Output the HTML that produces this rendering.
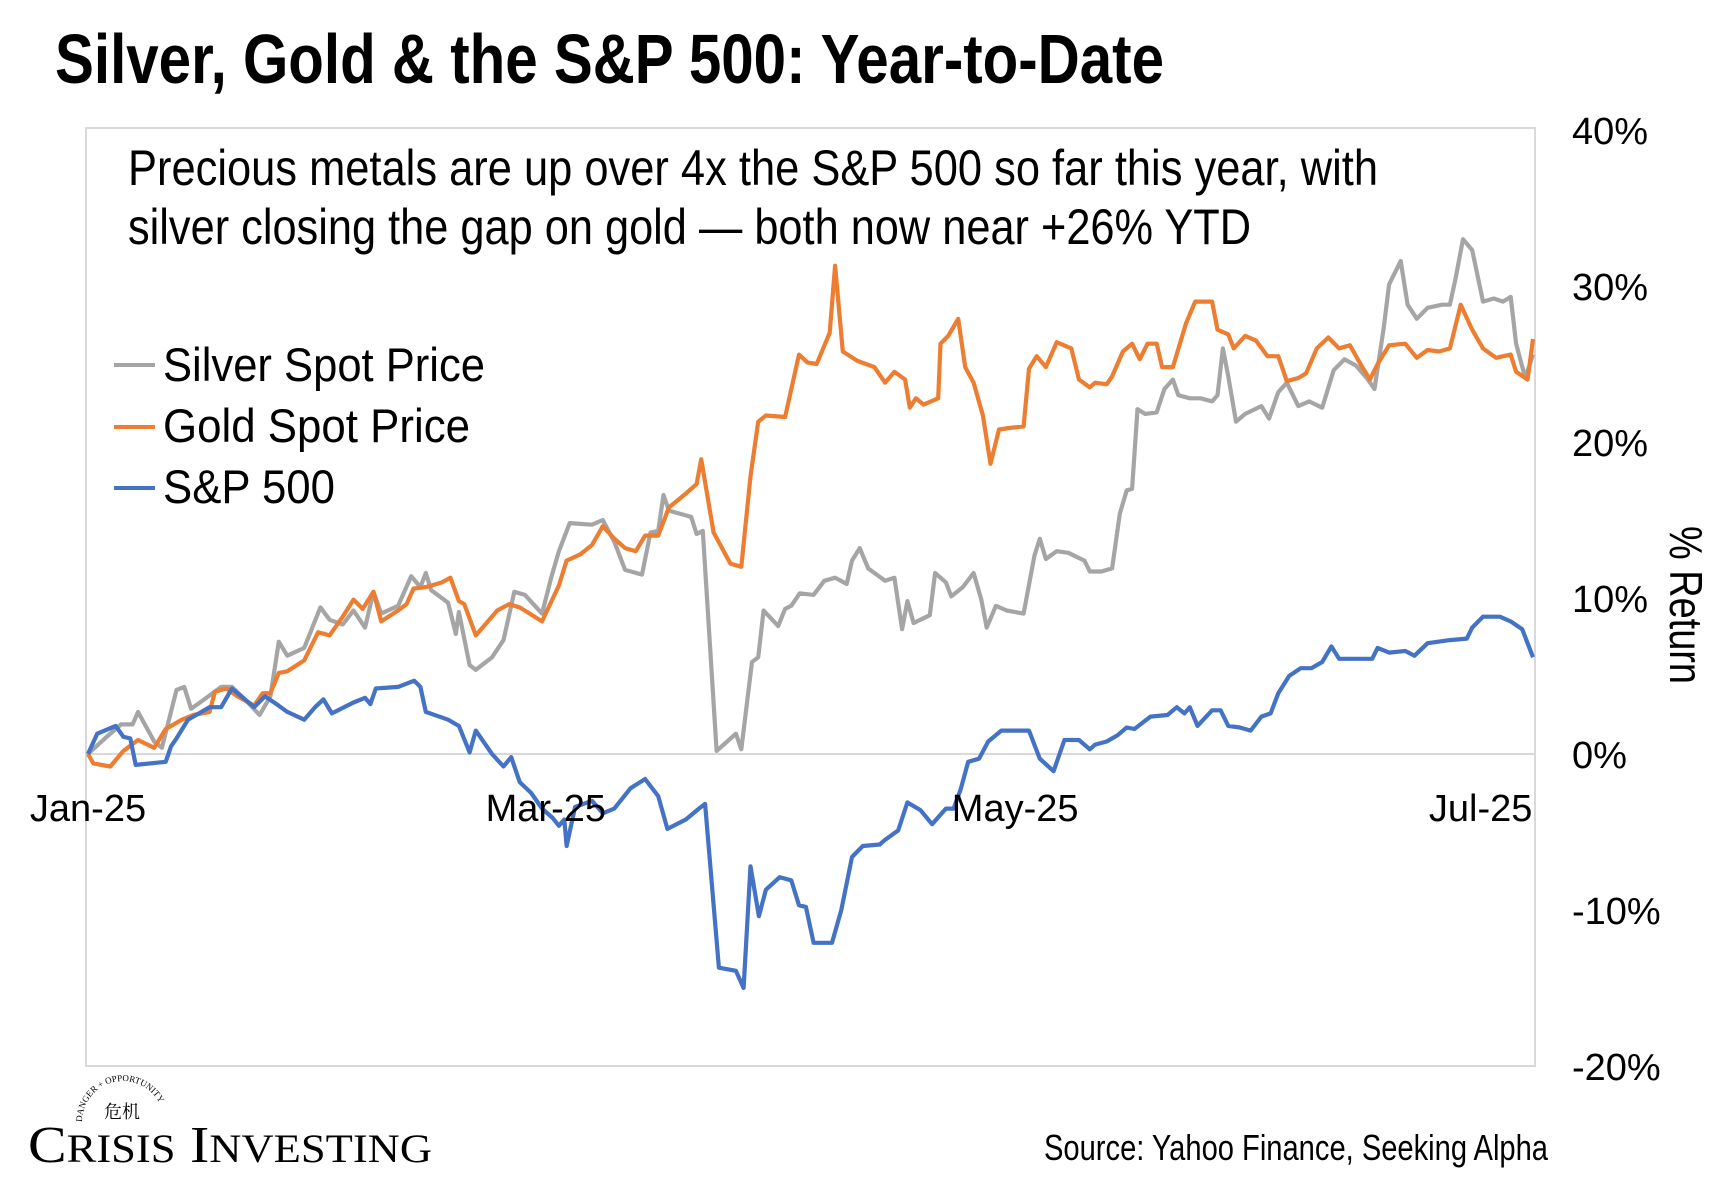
<!DOCTYPE html>
<html><head><meta charset="utf-8"><style>
html,body{margin:0;padding:0;background:#fff;}
svg{display:block;}
</style></head><body>
<svg id="chart" width="1732" height="1196" viewBox="0 0 1732 1196" xmlns="http://www.w3.org/2000/svg">
<rect width="1732" height="1196" fill="#fff"/>
<text x="55" y="83" font-family="Liberation Sans, sans-serif" font-weight="bold" font-size="70" textLength="1109" lengthAdjust="spacingAndGlyphs">Silver, Gold &amp; the S&amp;P 500: Year-to-Date</text>
<rect x="86" y="128" width="1449" height="938" fill="none" stroke="#d9d9d9" stroke-width="2"/>
<text x="128" y="185" font-family="Liberation Sans, sans-serif" font-size="50" textLength="1250" lengthAdjust="spacingAndGlyphs">Precious metals are up over 4x the S&amp;P 500 so far this year, with</text>
<text x="128" y="244" font-family="Liberation Sans, sans-serif" font-size="50" textLength="1123" lengthAdjust="spacingAndGlyphs">silver closing the gap on gold — both now near +26% YTD</text>
<g id="grid"></g>
<g id="series"></g>
<g id="yticks"></g>
<g id="xticks"></g>
<g>
<g><line x1="114" y1="365" x2="155" y2="365" stroke="#A5A5A5" stroke-width="4"/><text x="163" y="381" font-family="Liberation Sans, sans-serif" font-size="47" textLength="322" lengthAdjust="spacingAndGlyphs">Silver Spot Price</text></g>
<g><line x1="114" y1="427" x2="155" y2="427" stroke="#ED7D31" stroke-width="4"/><text x="163" y="442" font-family="Liberation Sans, sans-serif" font-size="47" textLength="307" lengthAdjust="spacingAndGlyphs">Gold Spot Price</text></g>
<g><line x1="114" y1="488" x2="155" y2="488" stroke="#4472C4" stroke-width="4"/><text x="163" y="503" font-family="Liberation Sans, sans-serif" font-size="47" textLength="172" lengthAdjust="spacingAndGlyphs">S&amp;P 500</text></g>
</g>
<text transform="translate(1670,605) rotate(90)" text-anchor="middle" font-family="Liberation Sans, sans-serif" font-size="46" textLength="158" lengthAdjust="spacingAndGlyphs">% Return</text>
<text x="1548" y="1160" text-anchor="end" font-family="Liberation Sans, sans-serif" font-size="36" textLength="504" lengthAdjust="spacingAndGlyphs">Source: Yahoo Finance, Seeking Alpha</text>
<g>
<path id="arc" d="M82,1122 A40,40 0 0 1 164,1122" fill="none"/>
<text font-family="Liberation Serif, serif" font-size="9"><textPath href="#arc">DANGER + OPPORTUNITY</textPath></text>
<text x="104" y="1118" font-family="Liberation Serif, 'Noto Serif CJK SC', serif" font-size="18">危机</text>
<text x="28" y="1162" font-family="Liberation Serif, serif" font-size="52" textLength="404" lengthAdjust="spacingAndGlyphs">C<tspan font-size="40">RISIS</tspan> I<tspan font-size="40">NVESTING</tspan></text>
</g>
</svg>
<script>
// Day offsets from Jan 1, 2025 and % return values
const spDays = [0,1.2,3.6,4.6,5.5,6.2,10.1,10.8,11.5,13.0,15.8,17.3,18.7,21.6,23.0,24.5,25.9,28.1,29.5,30.6,31.7,34.5,36.0,36.7,37.4,40.3,42.4,43.2,43.9,46.8,48.2,49.6,50.4,52.5,54.0,55.0,56.1,57.6,59.0,60.4,61.2,61.9,62.2,63.3,65.5,66.9,68.4,70.5,72.4,74.1,75.3,77.7,79.4,80.2,82.0,84.2,85.2,86.1,87.2,88.1,89.9,91.4,92.4,93.3,94.3,96.7,97.9,99.3,100.7,102.9,103.6,105.3,106.5,108.2,109.7,111.5,112.5,113.4,114.4,115.8,117.0,118.7,122.3,123.7,125.5,126.9,128.8,130.2,130.9,132.4,133.8,135.0,136.0,138.1,140.3,141.5,142.5,143.2,144.2,146.1,147.2,148.2,149.7,151.1,152.5,153.7,154.7,156.1,157.6,159.0,160.4,161.6,162.6,166.9,167.6,169.1,171.2,172.4,174.1,177.0,179.2,179.9,181.3,183.5,184.9,186.4,187.8];
const spValues = [0,1.3,1.8,1.1,1.0,-0.7,-0.5,0.5,1.0,2.2,3.0,3.0,4.2,3.0,3.7,3.2,2.7,2.2,3.0,3.5,2.6,3.3,3.6,3.2,4.2,4.3,4.7,4.3,2.7,2.2,1.8,0.1,1.5,0,-0.8,-0.2,-1.8,-2.5,-3.5,-4.1,-4.6,-4.2,-5.9,-3.4,-3.0,-3.8,-3.5,-2.2,-1.6,-2.7,-4.8,-4.2,-3.5,-3.2,-13.7,-13.9,-15.0,-7.2,-10.4,-8.7,-7.9,-8.1,-9.7,-9.8,-12.1,-12.1,-10.0,-6.6,-5.9,-5.8,-5.5,-4.9,-3.1,-3.6,-4.5,-3.5,-3.5,-2.3,-0.5,-0.3,0.8,1.5,1.5,-0.3,-1.1,0.9,0.9,0.3,0.6,0.8,1.2,1.7,1.6,2.4,2.5,3.0,2.6,3.0,1.8,2.8,2.8,1.8,1.7,1.5,2.4,2.6,3.9,5.0,5.5,5.5,5.9,6.9,6.1,6.1,6.8,6.5,6.6,6.3,7.1,7.3,7.4,8.1,8.8,8.8,8.5,8.0,6.2];
const goldDays = [0,0.7,2.9,4.6,6.5,8.6,10.1,12.2,13.7,15.8,16.5,18.0,19.4,21.6,22.7,23.7,24.8,25.9,28.1,29.9,31.4,33.1,34.5,35.7,37.1,38.1,40.3,41.4,42.3,43.9,46.0,47.1,48.2,48.9,50.4,53.2,54.7,56.1,59.0,61.2,62.2,64.0,65.5,66.9,68.4,69.8,71.2,72.4,74.1,75.5,77.7,79.1,79.7,81.3,83.5,84.9,86.1,87.1,88.1,90.6,92.4,93.5,94.7,96.4,97.1,98.1,100.0,102.2,103.6,104.8,106.2,106.8,107.6,108.6,110.5,110.8,111.8,113.1,114.0,115.1,116.3,117.3,118.4,119.7,121.6,122.3,123.3,124.5,125.9,127.8,128.8,130.2,130.9,132.4,133.1,134.5,135.7,136.7,137.7,138.9,139.6,141.0,142.7,143.9,146.1,146.8,148.2,148.9,150.4,151.8,153.3,154.7,155.8,157.3,158.3,159.7,161.2,162.6,164.0,165.5,166.6,167.6,169.1,171.2,172.7,174.1,175.6,177.0,178.4,179.9,181.3,183.0,184.9,185.6,187.1,187.8];
const goldValues = [0,-0.6,-0.8,0.2,0.9,0.4,1.6,2.2,2.5,2.7,4.0,4.2,3.7,3.1,3.9,3.9,5.2,5.3,6.0,7.8,7.6,8.8,9.9,9.3,10.4,8.5,9.2,9.6,10.6,10.7,11.0,11.3,9.8,9.6,7.6,9.2,9.6,9.4,8.5,10.8,12.4,12.8,13.4,14.6,13.8,13.2,13.0,14.0,14.0,15.8,16.7,17.3,18.9,14.2,12.2,12.0,17.8,21.3,21.7,21.6,25.6,25.1,25.0,27.0,31.3,25.8,25.2,24.8,23.8,24.5,24.0,22.2,22.8,22.4,22.8,26.3,26.8,27.9,24.8,23.8,21.7,18.6,20.8,20.9,21.0,24.7,25.5,24.8,26.4,26.0,24.0,23.5,23.8,23.7,24.2,25.8,26.3,25.3,26.3,26.3,24.8,24.8,27.6,29.0,29.0,27.2,26.9,26.0,26.8,26.5,25.5,25.5,23.9,24.1,24.4,26.0,26.7,26.0,26.2,24.9,24.0,25.0,26.2,26.3,25.4,25.9,25.8,26.0,28.8,27.2,26.0,25.4,25.6,24.5,24.0,26.6];
const silverDays = [0,2.2,4.3,5.8,6.5,8.6,9.6,11.5,12.5,13.4,15.1,17.3,18.7,20.4,22.3,23.7,24.8,25.9,28.1,30.2,31.4,33.1,34.5,36.0,37.1,38.1,40.3,42.0,43.2,43.9,44.6,46.8,47.8,48.2,49.6,50.4,52.5,54.0,55.4,56.8,59.0,60.2,61.2,62.6,65.5,66.9,68.4,69.8,72.0,73.1,74.1,74.8,75.5,78.4,79.1,79.9,81.7,84.2,84.9,86.3,87.1,87.8,89.7,90.6,91.4,92.5,94.3,95.7,97.1,98.6,99.3,100.3,101.4,103.6,104.8,105.8,106.5,107.3,109.4,110.1,111.5,112.2,113.7,115.1,116.1,116.8,118.0,119.4,121.6,123.0,123.7,124.5,125.9,127.4,129.5,130.2,131.7,133.1,134.1,135.0,135.7,136.4,137.4,138.9,139.9,141.0,141.7,143.2,144.6,146.1,146.8,147.5,148.2,149.2,150.4,152.5,153.5,154.7,155.8,157.3,158.7,160.4,161.9,163.3,164.8,166.2,167.2,168.4,169.1,170.6,171.5,172.7,174.1,176.0,177.0,177.7,178.7,179.9,181.3,182.7,183.9,184.9,185.6,186.8,187.8];
const silverValues = [0,1.0,1.9,1.9,2.7,0.8,0.4,4.1,4.3,2.9,3.5,4.3,4.3,3.5,2.5,3.7,7.2,6.3,6.8,9.4,8.6,8.3,9.2,8.1,10.4,9.0,9.5,11.4,10.7,11.6,10.5,9.7,7.7,9.1,5.7,5.4,6.2,7.3,10.4,10.2,9.0,11.3,13.0,14.8,14.7,15.0,13.6,11.8,11.5,14.2,14.3,16.6,15.6,15.2,14.1,14.3,0.2,1.3,0.3,5.9,6.2,9.2,8.2,9.3,9.5,10.3,10.2,11.1,11.3,10.9,12.4,13.2,11.9,11.1,11.3,8.0,9.8,8.4,8.9,11.6,11.0,10.1,10.7,11.6,9.9,8.1,9.5,9.2,9.0,12.7,13.8,12.5,13.0,12.9,12.4,11.7,11.7,11.9,15.4,16.9,17.0,22.1,21.8,21.9,23.4,24.0,23.0,22.8,22.8,22.6,23.0,26.0,24.2,21.3,21.8,22.3,21.5,23.2,23.8,22.3,22.6,22.2,24.6,25.3,24.9,24.1,23.4,27.3,30.1,31.6,28.8,27.9,28.6,28.8,28.8,30.4,33.0,32.3,29.0,29.2,29.0,29.3,26.3,24.1,25.6];
const yTicks = [40,30,20,10,0,-10,-20];
const xTickLabels = ["Jan-25","Mar-25","May-25","Jul-25"];
const xTickDays = [0,59.5,120.5,181];

const NS = "http://www.w3.org/2000/svg";
const X0 = 88, X1 = 1533, DMAX = 187.8;
const Y0 = 754, PER = 15.6;
function xs(d){ return X0 + d * (X1 - X0) / DMAX; }
function ys(v){ return Y0 - v * PER; }

const grid = document.getElementById('grid');
const zl = document.createElementNS(NS,'line');
zl.setAttribute('x1',86); zl.setAttribute('x2',1535);
zl.setAttribute('y1',ys(0)); zl.setAttribute('y2',ys(0));
zl.setAttribute('stroke','#d9d9d9'); zl.setAttribute('stroke-width','2');


grid.appendChild(zl);

function drawLine(days, vals, color, name){
  const p = document.createElementNS(NS,'polyline');
  p.setAttribute('points', days.map((d,i)=>xs(d).toFixed(1)+','+ys(vals[i]).toFixed(1)).join(' '));
  p.setAttribute('fill','none'); p.setAttribute('stroke',color);
  p.setAttribute('stroke-width','4.2'); p.setAttribute('stroke-linejoin','round');
  
  
  document.getElementById('series').appendChild(p);
}
drawLine(silverDays, silverValues, '#A5A5A5', 'silver-line');
drawLine(goldDays, goldValues, '#ED7D31', 'gold-line');
drawLine(spDays, spValues, '#4472C4', 'sp500-line');

const yt = document.getElementById('yticks');
yTicks.forEach(v=>{
  const t = document.createElementNS(NS,'text');
  t.setAttribute('x',1572); t.setAttribute('y',ys(v)+14);
  t.setAttribute('font-family','Liberation Sans, sans-serif'); t.setAttribute('font-size','38');
  t.textContent = v + '%';
  
  
  yt.appendChild(t);
});
const xt = document.getElementById('xticks');
xTickLabels.forEach((lab,i)=>{
  const t = document.createElementNS(NS,'text');
  t.setAttribute('x',xs(xTickDays[i])); t.setAttribute('y',821);
  t.setAttribute('text-anchor','middle');
  t.setAttribute('font-family','Liberation Sans, sans-serif'); t.setAttribute('font-size','38');
  t.textContent = lab;
  
  
  xt.appendChild(t);
});
</script>
</body></html>
